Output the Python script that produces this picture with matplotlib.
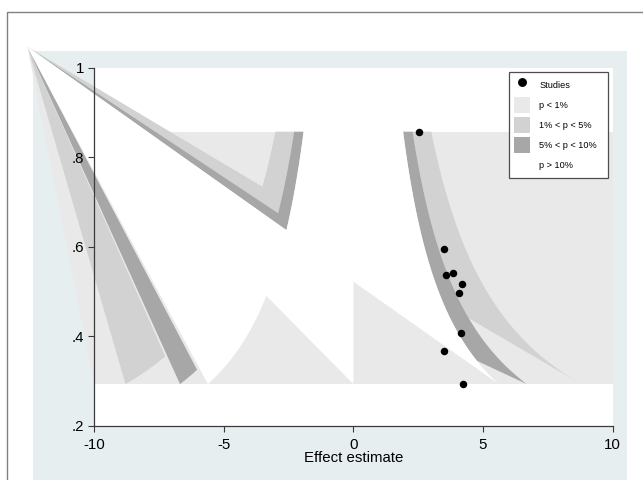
import numpy as np
import matplotlib
matplotlib.use('Agg')
import matplotlib.pyplot as plt
from matplotlib.patches import Polygon, Rectangle, Patch
from matplotlib.lines import Line2D

# studies (effect estimate, precision)
study_effect = [2.55, 3.50, 3.57, 3.86, 4.19, 4.07, 4.15, 3.49, 4.25]
study_precision = [0.857, 0.595, 0.537, 0.542, 0.517, 0.496, 0.407, 0.368, 0.293]

# contour z values for 1%, 5% and 10%
z_1pct = 2.576
z_5pct = 1.96
z_10pct = 1.645

# the broken corners of the shaded areas, as they show in the picture
apex = (-12.58, 1.047)
right_cut_light = 0.44
right_cut_dark = 0.345
right_cut_white = 0.522
left_cut_light_up = [0.734, 0.675]
left_cut_dark_up = [0.675, 0.637]
left_cut_light_low = 0.355
left_cut_dark_low = 0.325
left_cut_white_low = 0.49

legend_labels = ['Studies', 'p < 1%', '1% < p < 5%', '5% < p < 10%', 'p > 10%']
x_ticks = [-10, -5, 0, 5, 10]
x_ticklabels = ['-10', '-5', '0', '5', '10']
y_ticks = [0.2, 0.4, 0.6, 0.8, 1.0]
y_ticklabels = ['.2', '.4', '.6', '.8', '1']

c_lightest = '#e9e9e9'
c_light = '#d2d2d2'
c_dark = '#a7a7a7'
c_bg = '#e6eef0'


def contour(z, y_from, y_to, side):
	"""
	points of the significance contour x = side*z/y going from y_from to y_to
	"""
	ys = np.linspace(y_from, y_to, 80)
	return [(side*z/y, y) for y in ys]


def add_poly(ax, pts, color, z):
	ax.add_patch(Polygon(pts, closed=True, facecolor=color, edgecolor='none',
		linewidth=0, zorder=z, clip_on=False))


def main():
	plt.rcParams['font.family'] = ['Liberation Sans', 'DejaVu Sans']
	fig = plt.figure(figsize=(6.43, 4.80), dpi=100)

	# background in pixel coordinates
	bg = fig.add_axes([0, 0, 1, 1], zorder=-1)
	bg.set_xlim(0, 643)
	bg.set_ylim(480, 0)
	bg.axis('off')
	bg.add_patch(Rectangle((33, 51), 594, 440, facecolor=c_bg, edgecolor='none'))
	bg.add_patch(Rectangle((6.5, 12.3), 700, 600, facecolor='none',
		edgecolor='#808080', linewidth=1.0))

	ax = fig.add_axes([94.2/643, 1-425.7/480, 518.3/643, 358/480])
	ax.set_facecolor('white')
	ax.set_xlim(-10, 10)
	ax.set_ylim(0.2, 1.0)

	top = max(study_precision)
	bot = min(study_precision)

	# p < 1% everywhere in the range of the studies
	ax.add_patch(Rectangle((-10, bot), 20, top-bot, facecolor=c_lightest,
		edgecolor='none', zorder=1))
	add_poly(ax, [apex, (-10, bot), (-z_1pct/bot, bot)], c_lightest, 1)

	# 1% < p < 5%
	add_poly(ax, contour(z_1pct, top, bot, 1) + contour(z_5pct, right_cut_light, top, 1), c_light, 2)
	add_poly(ax, contour(z_1pct, top, left_cut_light_up[0], -1) + [apex]
		+ contour(z_5pct, left_cut_light_up[1], top, -1), c_light, 2)
	add_poly(ax, [apex] + contour(z_1pct, bot, left_cut_light_low, -1), c_light, 2)

	# 5% < p < 10%
	add_poly(ax, contour(z_5pct, top, bot, 1) + contour(z_10pct, right_cut_dark, top, 1), c_dark, 3)
	add_poly(ax, contour(z_5pct, top, left_cut_dark_up[0], -1) + [apex]
		+ contour(z_10pct, left_cut_dark_up[1], top, -1), c_dark, 3)
	add_poly(ax, [apex] + contour(z_5pct, bot, left_cut_dark_low, -1), c_dark, 3)

	# p > 10%
	white = [apex] + contour(z_10pct, left_cut_dark_up[1], top, -1)
	white += contour(z_10pct, top, bot, 1)
	white += [(0, right_cut_white), (0, bot)]
	white += contour(z_10pct, left_cut_white_low, bot, -1)
	add_poly(ax, white, 'white', 4)

	ax.scatter(study_effect, study_precision, s=5.4**2, c='black', zorder=6,
		linewidths=0, clip_on=False)

	for side in ['top', 'right']:
		ax.spines[side].set_visible(False)
	for side in ['left', 'bottom']:
		ax.spines[side].set_color('#3a3a3a')
		ax.spines[side].set_linewidth(0.9)
		ax.spines[side].set_zorder(7)
	ax.xaxis.set_zorder(7)
	ax.yaxis.set_zorder(7)
	ax.set_xticks(x_ticks)
	ax.set_xticklabels(x_ticklabels)
	ax.set_yticks(y_ticks)
	ax.set_yticklabels(y_ticklabels)
	ax.tick_params(direction='out', length=4, width=0.8, colors='#3a3a3a',
		labelcolor='black', labelsize=10.8)
	ax.tick_params(axis='x', pad=4.5)
	ax.tick_params(axis='y', pad=3)
	ax.set_xlabel('Effect estimate', fontsize=10.8)
	ax.xaxis.set_label_coords(0.5, -(458.3-425.7)/358)
	ax.xaxis.label.set_va('center')

	handles = [Line2D([], [], marker='o', color='black', linestyle='none', markersize=5.4),
		Patch(facecolor=c_lightest, edgecolor='none'),
		Patch(facecolor=c_light, edgecolor='none'),
		Patch(facecolor=c_dark, edgecolor='none'),
		Patch(facecolor='white', edgecolor='none')]
	leg_x0 = (509-94.2)/518.3
	leg_w = (607.7-509)/518.3
	leg = ax.legend(handles, legend_labels, loc='upper left',
		bbox_to_anchor=(leg_x0, 0.5, leg_w, 0.487), mode='expand',
		fontsize=6.6, frameon=True, fancybox=False, edgecolor='#4d4d4d', framealpha=1,
		borderpad=0.5, labelspacing=0.45, handlelength=1.8, handleheight=2.3,
		handletextpad=1.0, borderaxespad=0)
	leg.get_frame().set_linewidth(0.9)
	leg.set_zorder(8)

	fig.savefig('out.png', dpi=100)


if __name__ == '__main__':
	main()
